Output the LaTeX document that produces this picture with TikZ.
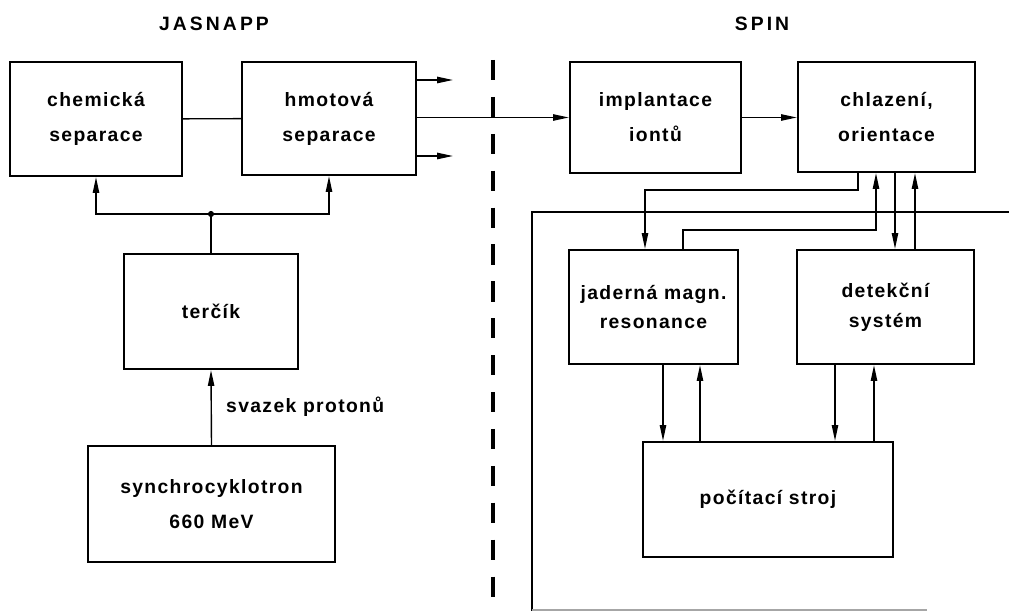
\documentclass[tikz,border=0pt]{standalone}
\usepackage{fontspec}
\setmainfont{Liberation Sans}[LetterSpace=7]
\usetikzlibrary{arrows.meta}
\tikzset{
  blok/.style={draw, line width=1.3pt, inner sep=0pt, align=center, font=\fontsize{11}{20}\selectfont\bfseries},
  popis/.style={font=\fontsize{11}{13}\selectfont\bfseries},
  nadpis/.style={font=\fontsize{11}{13}\selectfont\bfseries\addfontfeatures{LetterSpace=16}},
  spoj/.style={line width=0.8pt},
  sip/.style={spoj, -{Triangle[length=9pt,width=3.6pt]}},
}
\begin{document}
\begin{tikzpicture}[x=0.02cm, y=-0.02cm]
\useasboundingbox (0,0) rectangle (1009,611);
% nadpisy
\node[nadpis] (jasnapp) at (214,24) {JASNAPP};
\node[nadpis] (spin) at (762,24) {SPIN};
% levá část
\node[blok, minimum width=3.44cm, minimum height=2.28cm] (chem) at (96,119) {chemická\\separace};
\node[blok, minimum width=3.48cm, minimum height=2.26cm] (hmot) at (329,118.5) {hmotová\\separace};
\node[blok, minimum width=3.48cm, minimum height=2.30cm] (terc) at (211,311.5) {terčík};
\node[blok, minimum width=4.94cm, minimum height=2.32cm] (synch) at (211.5,504) {synchrocyklotron\\660 MeV};
\node[circle, fill, inner sep=0pt, minimum size=3.5pt] (split) at (211,214) {};
\node[popis, anchor=west] (svazek) at (220,407) {svazek protonů};
\coordinate (out1) at (453,80);
\coordinate (out2) at (453,156);
% pravá část
\node[blok, minimum width=3.42cm, minimum height=2.22cm] (impl) at (655.5,117.5) {implantace\\iontů};
\node[blok, minimum width=3.54cm, minimum height=2.20cm] (chlaz) at (886.5,117) {chlazení,\\orientace};
\node[blok, minimum width=3.38cm, minimum height=2.28cm, font=\fontsize{11}{17}\selectfont\bfseries] (jad) at (653.5,307) {jaderná magn.\\resonance};
\node[blok, minimum width=3.54cm, minimum height=2.28cm, font=\fontsize{11}{17}\selectfont\bfseries] (det) at (885.5,307) {detekční\\systém};
\node[blok, minimum width=5.00cm, minimum height=2.30cm] (poc) at (768,499.5) {počítací stroj};
\coordinate (r1) at (645,190);
\coordinate (r2) at (683,230);
% dělicí čára a rámeček
\draw[line width=1.8pt, dash pattern=on 11.5pt off 9.5pt] (493,60) -- (493,611);
\draw[spoj] (1009,212) -- (532,212) -- (532,611);
\draw[spoj, black!35] (532,610) -- (927,610);
% spoje vlevo
\draw[spoj] (chem) -- (hmot);
\draw[sip] (hmot.east |- out1) -- (out1);
\draw[sip] (hmot.east |- out2) -- (out2);
\draw[spoj] (terc.north) -- (split);
\draw[sip] (split) -| (chem.south);
\draw[sip] (split) -| (hmot.south);
\draw[sip] (synch.north) -- (terc.south);
% spoje vpravo
\draw[sip] (hmot.east |- impl.west) -- (impl.west);
\draw[sip] (impl.east) -- (chlaz.west |- impl.east);
\draw[sip] ([xshift=-0.57cm]chlaz.south) |- (r1) -- (jad.north -| r1);
\draw[sip] (jad.north -| r2) -- (r2) -| ([xshift=-0.21cm]chlaz.south);
\draw[sip] ([xshift=0.17cm]chlaz.south) -- ([xshift=0.17cm]chlaz.south |- det.north);
\draw[sip] ([xshift=0.57cm]chlaz.south |- det.north) -- ([xshift=0.57cm]chlaz.south);
\draw[sip] ([xshift=0.19cm]jad.south) -- ([xshift=0.19cm]jad.south |- poc.north);
\draw[sip] ([xshift=0.93cm]jad.south |- poc.north) -- ([xshift=0.93cm]jad.south);
\draw[sip] ([xshift=-1.01cm]det.south) -- ([xshift=-1.01cm]det.south |- poc.north);
\draw[sip] ([xshift=-0.23cm]det.south |- poc.north) -- ([xshift=-0.23cm]det.south);
\end{tikzpicture}
\end{document}
